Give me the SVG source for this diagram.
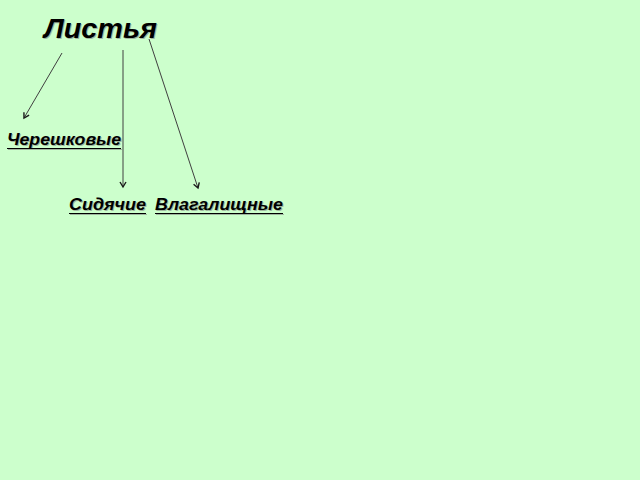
<svg xmlns="http://www.w3.org/2000/svg" width="640" height="480" viewBox="0 0 640 480">
<defs>
<marker id="v" markerWidth="8" markerHeight="8" refX="6" refY="4" orient="auto" markerUnits="userSpaceOnUse">
<path d="M1,1 L6,4 L1,7" fill="none" stroke="#1a1a1a" stroke-width="1.4"/>
</marker>
</defs>
<style>
.t{font-family:"Liberation Sans",Arial,sans-serif;font-weight:bold;font-style:italic;}
.s{fill:#9fb59f;}
.f{fill:#000;}
.ln{stroke:#404040;stroke-width:1;fill:none;marker-end:url(#v);}
.ul{stroke:#000;stroke-width:1.2;}
.uls{stroke:#9fb59f;stroke-width:1.2;}
</style>
<rect width="640" height="480" fill="#ccffcc"/>
<g id="title">
<text class="t s" x="45" y="39" font-size="28" textLength="113" lengthAdjust="spacingAndGlyphs">Листья</text>
<text class="t f" x="44" y="38" font-size="28" textLength="113" lengthAdjust="spacingAndGlyphs">Листья</text>
</g>
<g id="node-chereshkovye">
<text class="t s" x="8" y="146" font-size="16" textLength="114" lengthAdjust="spacingAndGlyphs">Черешковые</text>
<line class="uls" x1="8" y1="149.5" x2="122" y2="149.5"/>
<text class="t f" x="7" y="145" font-size="16" textLength="114" lengthAdjust="spacingAndGlyphs">Черешковые</text>
<line class="ul" x1="7" y1="148.5" x2="121" y2="148.5"/>
</g>
<g id="node-sidyachie">
<text class="t s" x="70" y="211" font-size="16" textLength="77" lengthAdjust="spacingAndGlyphs">Сидячие</text>
<line class="uls" x1="70" y1="214.5" x2="147" y2="214.5"/>
<text class="t f" x="69" y="210" font-size="16" textLength="77" lengthAdjust="spacingAndGlyphs">Сидячие</text>
<line class="ul" x1="69" y1="213.5" x2="146" y2="213.5"/>
</g>
<g id="node-vlagalishchnye">
<text class="t s" x="156" y="211" font-size="16" textLength="128" lengthAdjust="spacingAndGlyphs">Влагалищные</text>
<line class="uls" x1="156" y1="214.5" x2="284" y2="214.5"/>
<text class="t f" x="155" y="210" font-size="16" textLength="128" lengthAdjust="spacingAndGlyphs">Влагалищные</text>
<line class="ul" x1="155" y1="213.5" x2="283" y2="213.5"/>
</g>
<g id="connectors">
<line class="ln" x1="62" y1="53" x2="24" y2="118"/>
<line class="ln" x1="123" y1="50" x2="123" y2="187"/>
<line class="ln" x1="149" y1="39" x2="198" y2="188"/>
</g>
</svg>
